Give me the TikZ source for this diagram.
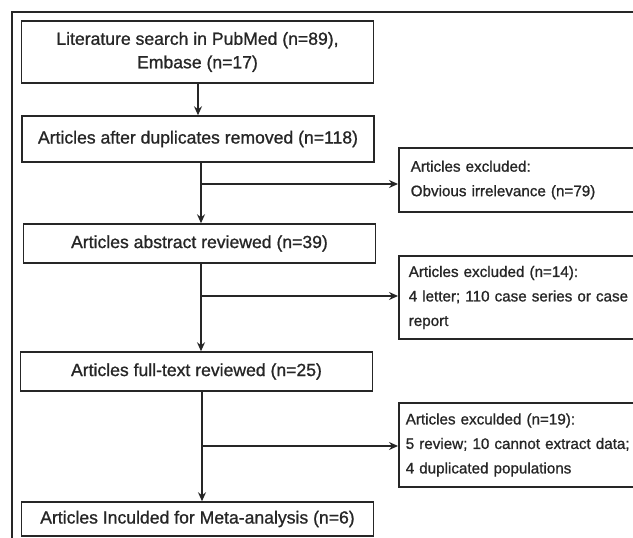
\documentclass[tikz,border=0pt]{standalone}
\usepackage{fontspec}
\setmainfont[FakeBold=1]{Liberation Sans}
\usetikzlibrary{arrows.meta}

\begin{document}
\begin{tikzpicture}[x=1pt, y=-1pt, line width=1.5pt, color=black!85,
	>={Stealth[length=9pt, width=8pt, inset=3pt]},
	mainbox/.style={draw, minimum width=352pt, minimum height=#1, inner sep=0pt,
		align=center, font=\fontsize{17.6}{23.5}\selectfont},
	exbox/.style={draw, anchor=west, minimum height=#1, text width=300pt,
		inner xsep=10pt, inner ysep=0pt, align=left,
		font=\fontsize{15.2}{24.5}\selectfont}]
	\useasboundingbox (0,0) rectangle (633,538);
	\clip (0,0) rectangle (633,538);
	\draw [line width=1.2pt] (12,560) -- (12,12) -- (660,12);
	\node [mainbox=62pt] (S) at (197.5,52) {Literature search in PubMed (n=89),\\Embase (n=17)};
	\node [mainbox=46pt] (D) at (198,139) {Articles after duplicates removed (n=118)};
	\node [mainbox=39pt] (A) at (199.5,243.5) {Articles abstract reviewed (n=39)};
	\node [mainbox=39pt] (F) at (196.5,371.5) {Articles full-text reviewed (n=25)};
	\node [mainbox=34pt] (I) at (197.5,519) {Articles Inculded for Meta-analysis (n=6)};
	\node [exbox=64pt, inner xsep=12pt] (E1) at (398,180) {Articles excluded:\\Obvious irrelevance (n=79)};
	\node [exbox=83pt] (E2) at (398,297.5) {Articles excluded (n=14):\\4 letter; 110 case series or case\\report};
	\node [exbox=84pt, inner xsep=7pt] (E3) at (398,445) {Articles exculded (n=19):\\5 review; 10 cannot extract data;\\4 duplicated populations};
	\coordinate (B1) at (201,184);
	\coordinate (B2) at (201,296);
	\coordinate (B3) at (202,446);
	\draw [->] (S.south -| 198,0) -- (D.north -| 198,0);
	\draw [->] (D.south -| B1) -- (A.north -| B1);
	\draw [->] (B1) -- (E1.west |- B1);
	\draw [->] (A.south -| B2) -- (F.north -| B2);
	\draw [->] (B2) -- (E2.west |- B2);
	\draw [->] (F.south -| B3) -- (I.north -| B3);
	\draw [->] (B3) -- (E3.west |- B3);
\end{tikzpicture}
\end{document}
